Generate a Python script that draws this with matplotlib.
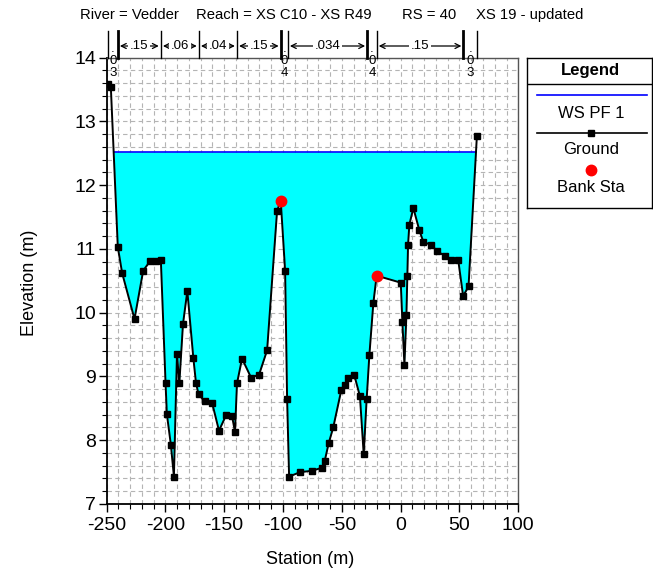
import matplotlib
matplotlib.use('Agg')
import matplotlib.pyplot as plt
import numpy as np
from matplotlib.transforms import blended_transform_factory
from matplotlib.ticker import MultipleLocator

plt.rcParams['font.family'] = ['Liberation Sans', 'DejaVu Sans']
plt.rcParams['axes.unicode_minus'] = False

# ---------------- data ----------------
station = [-248.7, -246.3, -240.4, -236.7, -226.2, -218.8, -212.8, -208.3, -203.8,
           -199.8, -198.7, -195.3, -192.7, -190.1, -188.1, -185.0, -181.3, -176.2,
           -173.9, -171.7, -166.6, -160.3, -154.4, -148.4, -143.3, -140.8, -139.1,
           -134.8, -127.1, -120.3, -113.5, -105.0, -101.9, -98.2, -96.5, -94.8,
           -85.4, -75.4, -66.7, -64.6, -61.2, -57.3, -50.5, -47.6, -44.5, -39.4,
           -34.6, -31.4, -28.9, -26.6, -23.2, -20.4, 0.1, 1.5, 3.2, 4.9, 5.7, 6.3,
           7.4, 10.8, 15.9, 19.3, 25.9, 31.3, 37.5, 43.2, 48.9, 53.1, 57.7, 64.8]
elevation = [13.58, 13.53, 11.03, 10.62, 9.90, 10.66, 10.81, 10.81, 10.82,
             8.89, 8.41, 7.93, 7.43, 9.35, 8.89, 9.82, 10.34, 9.29,
             8.89, 8.72, 8.61, 8.59, 8.15, 8.39, 8.38, 8.13, 8.89,
             9.28, 8.98, 9.03, 9.41, 11.60, 11.75, 10.66, 8.65, 7.43,
             7.50, 7.52, 7.57, 7.67, 7.95, 8.20, 8.78, 8.86, 8.97, 9.02,
             8.69, 7.78, 8.64, 9.33, 10.15, 10.58, 10.47, 9.85, 9.18, 9.96, 10.58, 11.06,
             11.38, 11.64, 11.29, 11.11, 11.06, 10.96, 10.89, 10.83, 10.83, 10.26, 10.41, 12.77]
ws_pf1 = 12.52
bank_sta = [-101.9, -20.4]

n_bounds = [-248.7, -240.4, -203.8, -171.5, -139.1, -101.9, -95.9, -28.4, -20.4, 53.4, 64.8]
n_values = ['.03', '.15', '.06', '.04', '.15', '.04', '.034', '.04', '.15', '.03']

title_parts = ['River = Vedder', 'Reach = XS C10 - XS R49', 'RS = 40', 'XS 19 - updated']
title_px = [80.5, 196.5, 401.5, 476.5]

x_ticks = [-250, -200, -150, -100, -50, 0, 50, 100]
y_ticks = [7, 8, 9, 10, 11, 12, 13, 14]

# ---------------- figure ----------------
W, H = 653, 576
fig = plt.figure(figsize=(W / 100, H / 100), dpi=100)
ax_l, ax_r, ax_t, ax_b = 106.5, 518.3, 57.5, 504.0
ax = fig.add_axes([ax_l / W, 1 - ax_b / H, (ax_r - ax_l) / W, (ax_b - ax_t) / H])

st = np.array(station)
el = np.array(elevation)

# water extent: where ground crosses WS
ws_x0 = np.interp(ws_pf1, el[1:3][::-1], st[1:3][::-1])
ws_x1 = np.interp(ws_pf1, el[-2:], st[-2:])

xfill = np.concatenate([[ws_x0], st[(st > ws_x0) & (st < ws_x1)], [ws_x1]])
yfill = np.interp(xfill, st, el)
ax.fill_between(xfill, yfill, ws_pf1, color='#00FFFF', lw=0, zorder=2)
ax.plot([ws_x0, ws_x1], [ws_pf1, ws_pf1], color='#0000FF', lw=1.2, zorder=3)

ax.plot(st, el, color='black', lw=1.4, marker='s', ms=4.3, zorder=4)
bank_el = np.interp(bank_sta, st, el)
ax.plot(bank_sta, bank_el, ls='none', marker='o', color='red', ms=7.5, zorder=5)

ax.set_xlim(-250, 100)
ax.set_ylim(7, 14)
ax.set_xticks(x_ticks)
ax.set_yticks(y_ticks)
ax.xaxis.set_minor_locator(MultipleLocator(10))
ax.yaxis.set_minor_locator(MultipleLocator(0.2))
ax.grid(which='both', color='#b4b4b4', ls=(0, (4, 3)), lw=0.8)
ax.set_axisbelow(True)
ax.tick_params(which='major', direction='out', length=6, width=1, labelsize=14, pad=1.5)
ax.tick_params(which='minor', direction='out', length=3.5, width=0.8)
ax.tick_params(axis='x', which='major', pad=3)
for s in ['left', 'bottom']:
    ax.spines[s].set_color('black')
    ax.spines[s].set_linewidth(1.3)
for s in ['top', 'right']:
    ax.spines[s].set_color('#555555')
    ax.spines[s].set_linewidth(1.0)

fig.text(310 / W, 1 - 560 / H, 'Station (m)', ha='center', va='center', fontsize=13)
fig.text(30 / W, 1 - 283 / H, 'Elevation (m)', ha='center', va='center', fontsize=13, rotation=90)

for txt, px in zip(title_parts, title_px):
    fig.text(px / W, 1 - 15 / H, txt, ha='left', va='center', fontsize=10.7)

# ---------------- n-value annotations ----------------
tr = blended_transform_factory(ax.transData, ax.transAxes)
def yfrac(py):
    return 1 + (ax_t - py) / (ax_b - ax_t)

thick = {-240.4, -101.9, -28.4, 53.4}
for b in n_bounds:
    ax.plot([b, b], [1.0, yfrac(31.5)], transform=tr, color='black',
            lw=2.0 if b in thick else 1.0, clip_on=False, zorder=6)

for i, lab in enumerate(n_values):
    b0, b1 = n_bounds[i], n_bounds[i + 1]
    mid = (b0 + b1) / 2
    if b1 - b0 < 12:
        for j, ch in enumerate(lab):
            ax.text(mid, yfrac(51.5 + 12 * j), ch, transform=tr, ha='center',
                    va='baseline', fontsize=9.5, clip_on=False, zorder=7)
    else:
        ax.annotate('', xy=(b1, yfrac(46)), xytext=(b0, yfrac(46)), xycoords=tr,
                    textcoords=tr,
                    arrowprops=dict(arrowstyle='<->', lw=0.9, color='black',
                                    shrinkA=1.5, shrinkB=1.5, mutation_scale=9),
                    annotation_clip=False)
        ax.text(mid, yfrac(46), lab, transform=tr, ha='center', va='center',
                fontsize=9.5, clip_on=False, zorder=7,
                bbox=dict(fc='white', ec='none', pad=1.2))

# ---------------- legend box ----------------
lg_l, lg_r, lg_t, lg_b = 527.3, 652.0, 57.5, 208.0
lax = fig.add_axes([lg_l / W, 1 - lg_b / H, (lg_r - lg_l) / W, (lg_b - lg_t) / H])
lax.set_xlim(0, 1)
lax.set_ylim(0, 1)
lax.set_xticks([])
lax.set_yticks([])
for s in lax.spines.values():
    s.set_color('black')
    s.set_linewidth(1.0)

def ly(py):
    return 1 - (py - lg_t) / (lg_b - lg_t)

lax.text(0.51, ly(70), 'Legend', ha='center', va='center', fontsize=12, fontweight='bold')
lax.plot([0, 1], [ly(84.3), ly(84.3)], color='black', lw=1.0)
lax.plot([0.08, 0.96], [ly(95), ly(95)], color='#0000FF', lw=1.2)
lax.text(0.51, ly(113), 'WS PF 1', ha='center', va='center', fontsize=12)
lax.plot([0.08, 0.96], [ly(133), ly(133)], color='black', lw=1.2)
lax.plot([0.51], [ly(133)], marker='s', color='black', ms=4.3)
lax.text(0.51, ly(150), 'Ground', ha='center', va='center', fontsize=12)
lax.plot([0.51], [ly(170)], marker='o', color='red', ms=7.5)
lax.text(0.51, ly(187), 'Bank Sta', ha='center', va='center', fontsize=12)

fig.savefig('out.png', dpi=100)
